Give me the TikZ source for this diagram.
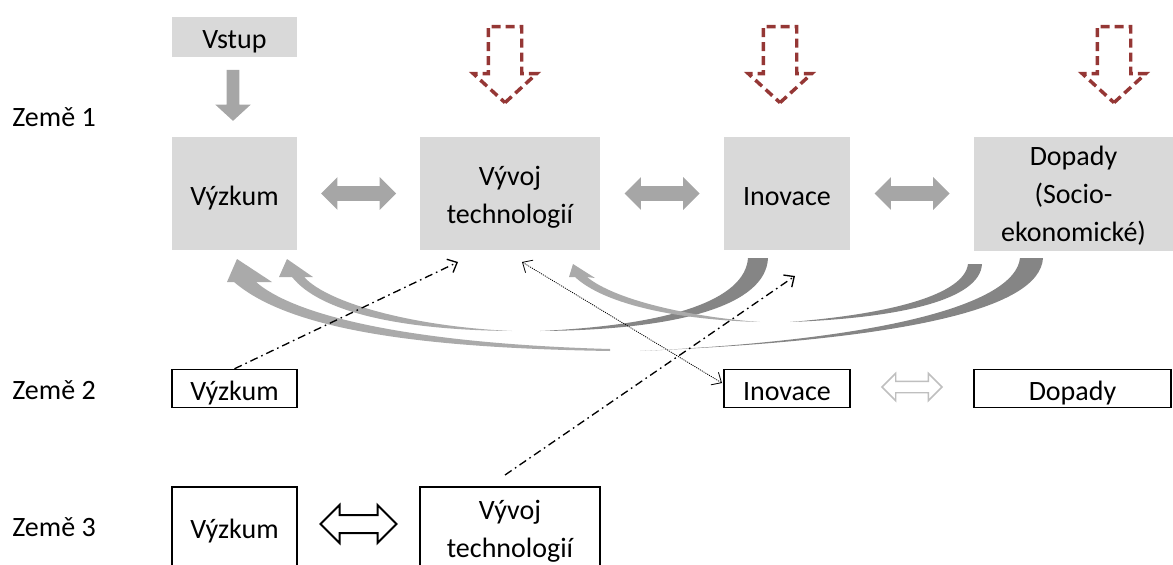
\documentclass[tikz,border=0pt]{standalone}
\usepackage{fontspec}
\setmainfont{Carlito}
\usetikzlibrary{arrows.meta,calc,shapes.arrows}
\definecolor{boxgray}{HTML}{D9D9D9}
\definecolor{arrowgray}{HTML}{A6A6A6}
\definecolor{taildark}{HTML}{858585}
\definecolor{shaftlight}{HTML}{AAAAAA}
\definecolor{dashred}{HTML}{953735}
\definecolor{hollowgray}{HTML}{BFBFBF}
\newcommand{\dtxt}[2][3pt]{\raisebox{-#1}[\height][\depth]{\begin{tabular}{@{}c@{}}#2\end{tabular}}}
\begin{document}
\begin{tikzpicture}[x=0.75pt,y=-0.75pt,
  every node/.style={font=\fontsize{21}{28.5}\selectfont},
  graybox/.style={fill=boxgray, inner sep=0pt, align=center},
  thinbox/.style={draw=black, line width=1.1pt, fill=white, inner sep=0pt, minimum height=27.75pt, align=center},
  thickbox/.style={draw=black, line width=1.9pt, fill=white, inner sep=0pt, minimum height=63pt, align=center},
  zeme/.style={anchor=west, inner sep=0pt},
  solidblock/.style={double arrow, fill=arrowgray, draw=none, double arrow tip angle=90, double arrow head indent=0pt, inner xsep=0pt, inner ysep=5.25pt, double arrow head extend=6.75pt, minimum height=56.25pt, minimum width=0pt},
  hollowblock/.style={double arrow, draw=hollowgray, fill=white, line width=1.1pt, double arrow tip angle=90, double arrow head indent=0pt, inner xsep=0pt, inner ysep=3.75pt, double arrow head extend=6pt, minimum height=45pt, minimum width=0pt},
  blackblock/.style={double arrow, draw=black, fill=white, line width=1.5pt, double arrow tip angle=90, double arrow head indent=0pt, inner xsep=0pt, inner ysep=6pt, double arrow head extend=7.5pt, minimum height=57pt, minimum width=0pt},
  reddash/.style={single arrow, draw=dashred, line width=2.6pt, dash pattern=on 6.75pt off 3.75pt, single arrow tip angle=95, single arrow head indent=0pt, single arrow head extend=11.25pt, inner xsep=0pt, inner ysep=11.25pt, minimum height=57pt, minimum width=0pt, rotate=-90},
  downblock/.style={single arrow, fill=arrowgray, draw=none, single arrow tip angle=95, single arrow head indent=0pt, single arrow head extend=8.6pt, inner xsep=0pt, inner ysep=4.5pt, minimum height=38.25pt, minimum width=0pt, rotate=-90},
  dashdot/.style={line width=1pt, dash pattern=on 6pt off 3pt on 1.2pt off 3pt, -{Straight Barb[length=6pt,width=11pt]}},
  dottedarrow/.style={line width=0.6pt, dash pattern=on 0.8pt off 0.8pt, {Straight Barb[length=6pt,width=11pt]}-{Straight Barb[length=6pt,width=11pt]}}
]
\useasboundingbox (0,0) rectangle (1173,564);
\clip (0,0) rectangle (1173,564);

% row labels
\node[zeme] (z1) at (12,117) {Země 1};
\node[zeme] (z2) at (12,390) {Země 2};
\node[zeme] (z3) at (12,527) {Země 3};

% row 1
\node[graybox, minimum width=93.75pt, minimum height=30pt] (vstup) at (234.5,37) {\dtxt{Vstup}};
\node[graybox, minimum width=93.75pt, minimum height=84.75pt] (vyzkum1) at (234.5,193.5) {\dtxt{Výzkum}};
\node[graybox, minimum width=135pt, minimum height=84.75pt] (vyvoj1) at (510,193.5) {\dtxt[2.2pt]{Vývoj\\technologií}};
\node[graybox, minimum width=94.5pt, minimum height=84.75pt] (inovace1) at (787,193.5) {\dtxt{Inovace}};
\node[graybox, minimum width=149.25pt, minimum height=84.75pt] (dopady1) at (1073.5,193.5) {\dtxt[1.6pt]{Dopady\\(Socio-\\ekonomické)}};

\node[downblock] (va) at ($(vstup.south)!0.5!(vyzkum1.north)+(-1.5,-4.5)$) {};

\node[reddash] (r1) at (505,57) {};
\node[reddash] (r2) at (780,57) {};
\node[reddash] (r3) at (1114,57) {};

\node[solidblock] (d1) at ($(vyzkum1.east)!0.5!(vyvoj1.west)$) {};
\node[solidblock] (d2) at ($(vyvoj1.east)!0.5!(inovace1.west)$) {};
\node[solidblock] (d3) at ($(inovace1.east)!0.5!(dopady1.west)$) {};

% feedback arrows
% Inovace -> Vyzkum
\fill[taildark] (768,258) .. controls (766,305) and (680,330) .. (540,331)
  .. controls (670,325) and (745,300) .. (748,258) -- cycle;
\fill[shaftlight] (512,331) .. controls (400,330) and (320,312) .. (292,277)
  -- (279,277) -- (287,259) -- (313,277) -- (304,277)
  .. controls (330,305) and (420,327) .. (512,331) -- cycle;
% Dopady -> Vyzkum
\fill[taildark] (1043,258) .. controls (1040,310) and (900,340) .. (640,351)
  .. controls (880,340) and (1015,305) .. (1020,258) -- cycle;
\fill[shaftlight] (610,351) .. controls (420,348) and (290,330) .. (234,282)
  -- (227,282) -- (237,259) -- (272,282) -- (256,282)
  .. controls (300,320) and (430,344) .. (610,349) -- cycle;
% Dopady -> Vyvoj
\fill[taildark] (982,264) .. controls (980,300) and (900,318) .. (790,322)
  .. controls (890,314) and (964,295) .. (968,264) -- cycle;
\fill[shaftlight] (760,322) .. controls (680,320) and (605,305) .. (575,277)
  -- (569,277) -- (573,264) -- (595,278) -- (587,277)
  .. controls (615,300) and (690,317) .. (760,322) -- cycle;

% row 2
\node[thinbox, minimum width=93.75pt] (vyzkum2) at (234.5,388.5) {\dtxt{Výzkum}};
\node[thinbox, minimum width=94.5pt] (inovace2) at (787,388.5) {\dtxt{Inovace}};
\node[thinbox, minimum width=147.75pt] (dopady2) at (1072.5,388.5) {\dtxt{Dopady}};
\node[hollowblock] (h2) at ($(inovace2.east)!0.5!(dopady2.west)+(0,-1.5)$) {};

% row 3
\node[thickbox, minimum width=93.75pt] (vyzkum3) at (234.5,529) {\dtxt[1.5pt]{Výzkum}};
\node[thickbox, minimum width=135pt] (vyvoj3) at (510,529) {\dtxt[1.5pt]{Vývoj\\technologií}};
\node[blackblock] (h3) at ($(vyzkum3.east)!0.5!(vyvoj3.west)+(0,-5)$) {};

% cross-country links
\coordinate (e1) at (458,262);
\draw[dashdot] (vyzkum2.north) -- (e1);
\coordinate (s2) at (522,262);
\coordinate (e2) at (722,383);
\draw[dottedarrow] (s2) -- (e2);
\coordinate (s3) at (505,475);
\coordinate (e3) at (795,276);
\draw[dashdot] (s3) -- (e3);
\end{tikzpicture}
\end{document}
